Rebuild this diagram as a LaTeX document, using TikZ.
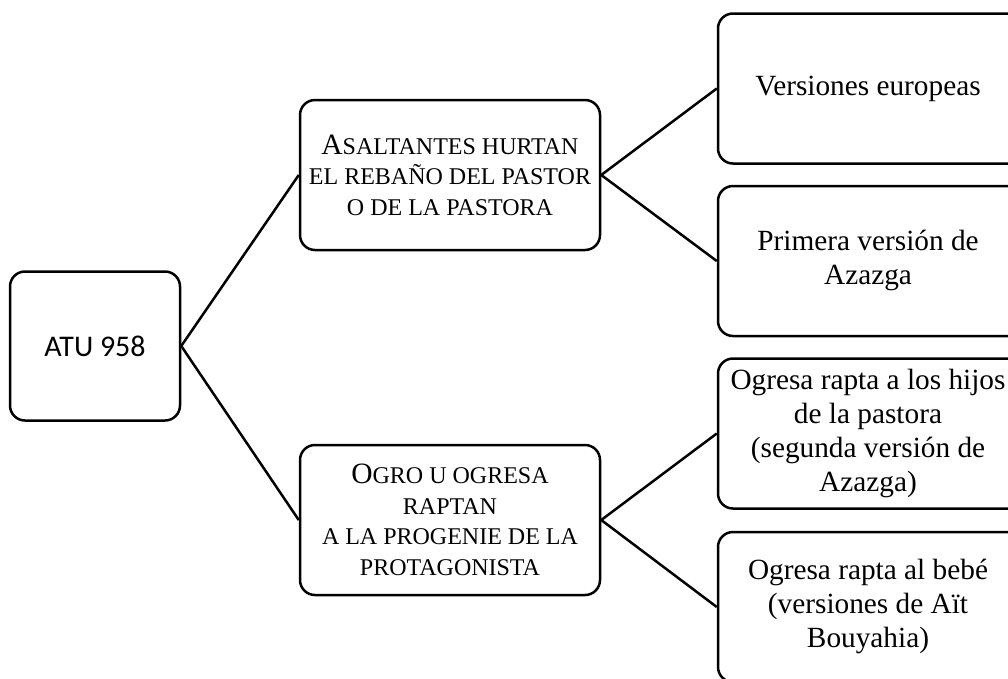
\documentclass[tikz,border=0pt]{standalone}
\usepackage{fontspec}
\setmainfont{Liberation Serif}
\newfontfamily\carlito{Carlito}
\newcommand\bigsc[1]{{\fontsize{29.5}{30}\selectfont #1}}
\begin{document}
\begin{tikzpicture}[x=1pt,y=-1pt,
  box/.style={draw, line width=2.5pt, rounded corners=15pt, align=center, inner sep=0pt},
  leafbox/.style={box, minimum width=340pt, minimum height=150pt, font=\fontsize{29.3}{34}\selectfont},
  midbox/.style={box, minimum width=300pt, minimum height=150pt, font=\fontsize{24}{30.5}\selectfont},
  conn/.style={line width=2.5pt}]
\useasboundingbox (0,0) rectangle (1008,678);
\clip (0,0) rectangle (1008,678);
\node[box, minimum width=170pt, minimum height=149pt, font=\carlito\fontsize{30}{34}\selectfont] (atu) at (95,346) {ATU 958};
\node[midbox] (asal) at (450,175) {\bigsc{A}SALTANTES HURTAN\\EL REBAÑO DEL PASTOR\\O DE LA PASTORA};
\node[midbox] (ogro) at (450,520) {\bigsc{O}GRO U OGRESA\\RAPTAN\\A LA PROGENIE DE LA\\PROTAGONISTA};
\node[leafbox] (eur) at (888,88.5) {\hspace*{-40pt}Versiones europeas};
\node[leafbox] (aza) at (888,261) {\hspace*{-40pt}\begin{tabular}{@{}c@{}}Primera versión de\\Azazga\end{tabular}};
\node[leafbox] (hij) at (888,433.5) {\hspace*{-40pt}\begin{tabular}{@{}c@{}}Ogresa rapta a los hijos\\de la pastora\\(segunda versión de\\Azazga)\end{tabular}};
\node[leafbox] (beb) at (888,607) {\hspace*{-40pt}\begin{tabular}{@{}c@{}}Ogresa rapta al bebé\\(versiones de Aït\\Bouyahia)\end{tabular}};
\draw[conn] (atu.east) -- (asal.west);
\draw[conn] (atu.east) -- (ogro.west);
\draw[conn] (asal.east) -- (eur.west);
\draw[conn] (asal.east) -- (aza.west);
\draw[conn] (ogro.east) -- (hij.west);
\draw[conn] (ogro.east) -- (beb.west);
\end{tikzpicture}
\end{document}
